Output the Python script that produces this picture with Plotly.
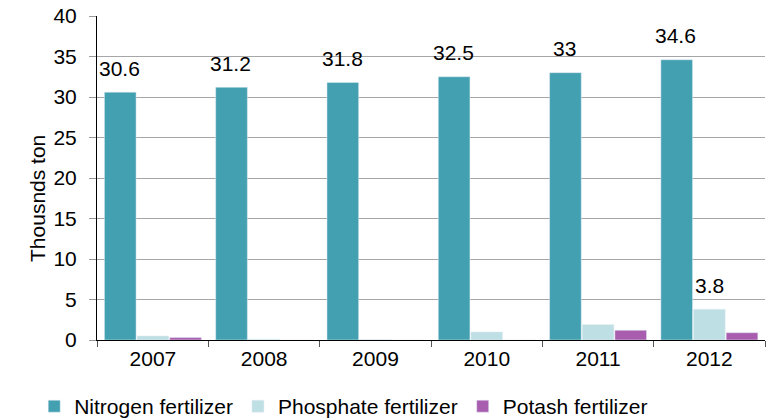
import plotly.graph_objects as go

years = ["2007", "2008", "2009", "2010", "2011", "2012"]
nitrogen = [30.6, 31.2, 31.8, 32.5, 33.0, 34.6]
phosphate = [0.5, 0.1, 0.05, 1.0, 1.9, 3.8]
potash = [0.3, 0.0, 0.0, 0.0, 1.2, 0.9]
nitrogen_labels = ["30.6", "31.2", "31.8", "32.5", "33", "34.6"]
y_ticks = [0, 5, 10, 15, 20, 25, 30, 35, 40]

font = "Liberation Sans, Arial, sans-serif"
FS = 21

fig = go.Figure()
fig.add_bar(x=years, y=nitrogen, name="Nitrogen fertilizer", marker_color="#42A0B0")
fig.add_bar(x=years, y=phosphate, name="Phosphate fertilizer", marker_color="#BEDFE3")
fig.add_bar(x=years, y=potash, name="Potash fertilizer", marker_color="#A95DAE")

for i, (v, t) in enumerate(zip(nitrogen, nitrogen_labels)):
    fig.add_annotation(x=i - 0.30, y=v, text=t, showarrow=False, yshift=24,
                       xref="x", yref="y", font=dict(size=FS, color="#000"))
fig.add_annotation(x=5, y=phosphate[5], text="3.8", showarrow=False, yshift=24,
                   xref="x", yref="y", font=dict(size=FS, color="#000"))
fig.add_annotation(x=-0.09, y=0.438, xref="paper", yref="paper", text="Thousnds ton",
                   xanchor="center", yanchor="middle",
                   textangle=-90, showarrow=False, font=dict(size=FS, color="#000"))

fig.update_layout(
    width=769, height=419,
    margin=dict(l=97, r=4, t=16, b=79, autoexpand=False),
    paper_bgcolor="white", plot_bgcolor="white",
    font=dict(family=font, size=FS, color="#000"),
    barmode="group", bargap=0.12, bargroupgap=0.03,
    showlegend=True,
    legend=dict(orientation="h", x=-0.094, xanchor="left", y=-0.142, yanchor="top",
                font=dict(size=FS), traceorder="normal"),
)
fig.update_xaxes(
    type="category", showline=True, linecolor="#000", linewidth=1,
    ticks="outside", tickson="boundaries", ticklen=6, tickcolor="#555",
    showgrid=False, automargin=False,
)
fig.update_yaxes(
    range=[0, 40], tickvals=y_ticks, showline=True, linecolor="#000", linewidth=1,
    ticks="outside", ticklen=7, tickcolor="#999", gridcolor="#A6A6A6", gridwidth=1,
    zeroline=False, automargin=False, ticklabelstandoff=8,
)
fig.write_html("out.html", config={"displayModeBar": False},
               post_script="document.body.style.margin='0';document.body.style.overflow='hidden';")
